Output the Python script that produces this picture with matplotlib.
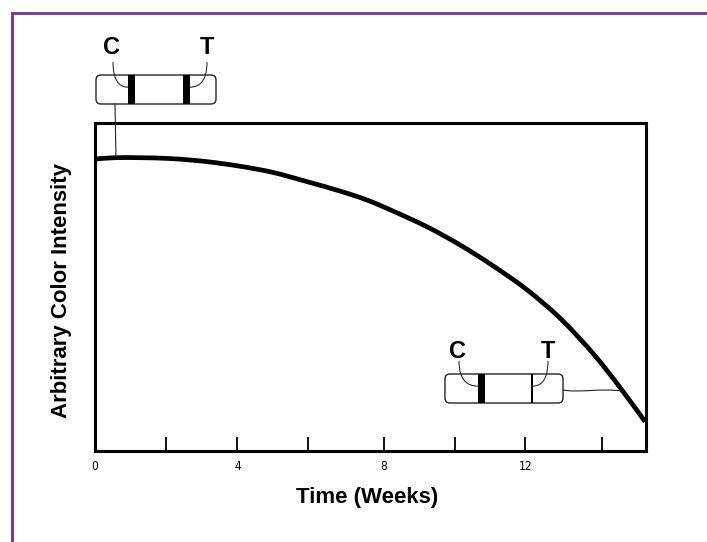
import matplotlib
matplotlib.use('Agg')
import matplotlib.pyplot as plt
from matplotlib.patches import FancyBboxPatch, PathPatch, Rectangle
from matplotlib.path import Path

# values
weeks = [0, 0.55, 1.25, 2.16, 3.1, 4.02, 4.94, 5.88, 6.8, 7.54, 8.27, 9.21,
         10.12, 11.04, 11.98, 12.9, 13.81, 14.56, 15.26]
intensity = [89.0, 89.4, 89.4, 89.1, 88.2, 86.8, 84.9, 82.1, 79.2, 76.5, 73.1,
             68.3, 62.8, 56.4, 49.1, 40.4, 29.7, 19.3, 8.8]
tick_weeks = [0, 1.96, 3.95, 5.92, 8.01, 9.99, 11.93, 14.05]
tick_labels = ['0', '', '4', '', '8', '', '12', '']

W, H = 707, 542
PURPLE = '#7030a0'
INK = '#222222'

fig = plt.figure(figsize=(W / 100, H / 100), dpi=100)
plt.rcParams['font.family'] = ['Liberation Sans', 'DejaVu Sans']


def smooth_path(xs, ys):
    # bezier through the readings, so the curve has no corners
    verts = [(xs[0], ys[0])]
    codes = [Path.MOVETO]
    n = len(xs)
    for i in range(n - 1):
        a = max(i - 1, 0)
        d = min(i + 2, n - 1)
        verts.append((xs[i] + (xs[i + 1] - xs[a]) / 6, ys[i] + (ys[i + 1] - ys[a]) / 6))
        verts.append((xs[i + 1] - (xs[d] - xs[i]) / 6, ys[i + 1] - (ys[d] - ys[i]) / 6))
        verts.append((xs[i + 1], ys[i + 1]))
        codes += [Path.CURVE4, Path.CURVE4, Path.CURVE4]
    return Path(verts, codes)


# main plot
left, right, top, bottom = 95, 646, 123, 450.5
ax = fig.add_axes([left / W, 1 - bottom / H, (right - left) / W, (bottom - top) / H])
ax.add_patch(PathPatch(smooth_path(weeks, intensity), fc='none', ec='black', lw=3.4,
                       capstyle='butt', zorder=3))
ax.set_xlim(0, (right - left) / 36.05)
ax.set_ylim(0, 100)
ax.set_yticks([])
ax.set_xticks(tick_weeks)
ax.set_xticklabels(tick_labels, family='DejaVu Sans', stretch='condensed', fontsize=8.5)
ax.tick_params(axis='x', direction='in', length=10, width=1.3, pad=7)
for spine in ax.spines.values():
    spine.set_linewidth(2.2)

# overlay in pixel coordinates for the frame and the test strips
over = fig.add_axes([0, 0, 1, 1], zorder=5)
over.set_xlim(0, W)
over.set_ylim(H, 0)
over.axis('off')
over.patch.set_alpha(0)

over.plot([12, 12, W], [H, 13, 13], color=PURPLE, lw=2, solid_joinstyle='miter')


def leader(x0, y0, x1, y1):
    # curved line from a letter down to a band
    path = Path([(x0, y0), (x0, y1), (x1, y1)], [Path.MOVETO, Path.CURVE3, Path.CURVE3])
    over.add_patch(PathPatch(path, fc='none', ec=INK, lw=0.75))


def strip(x0, y0, x1, y1, c_band, t_band, c_letter, t_letter):
    over.add_patch(FancyBboxPatch((x0 + 5, y0 + 5), x1 - x0 - 10, y1 - y0 - 10,
                                  boxstyle='round,pad=5,rounding_size=5',
                                  fc='white', ec=INK, lw=1))
    for bx0, bx1 in (c_band, t_band):
        over.add_patch(Rectangle((bx0, y0), bx1 - bx0, y1 - y0, fc='black', ec='none', zorder=3))
    mid = y0 + 0.42 * (y1 - y0)
    leader(c_letter[0] + 3, y0 - 13, c_band[0], mid)
    leader(t_letter[0], y0 - 13, t_band[1], mid)
    over.text(c_letter[0] + 1, c_letter[1] + 1, 'C', fontsize=17, fontweight='bold', ha='center', va='center')
    over.text(t_letter[0], t_letter[1] + 1, 'T', fontsize=17, fontweight='bold', ha='center', va='center')


strip(96, 75, 216, 104, (128, 135), (183, 190), (110, 47), (207, 47))
strip(445, 374, 563, 403, (478, 484.5), (531, 532.5), (456, 350), (548, 351))

# connectors from the strips to the curve
over.plot([115, 116], [104, 157], color=INK, lw=0.8)
over.add_patch(PathPatch(Path([(563, 390), (580, 393), (600, 388), (622, 391)],
                              [Path.MOVETO, Path.CURVE4, Path.CURVE4, Path.CURVE4]),
                         fc='none', ec=INK, lw=0.8))

over.text(61, 291, 'Arbitrary Color Intensity', rotation=90, fontsize=16, fontweight='bold',
          ha='center', va='center')
over.text(367, 497, 'Time (Weeks)', fontsize=16, fontweight='bold', ha='center', va='center')

fig.savefig('out.png', dpi=100)
